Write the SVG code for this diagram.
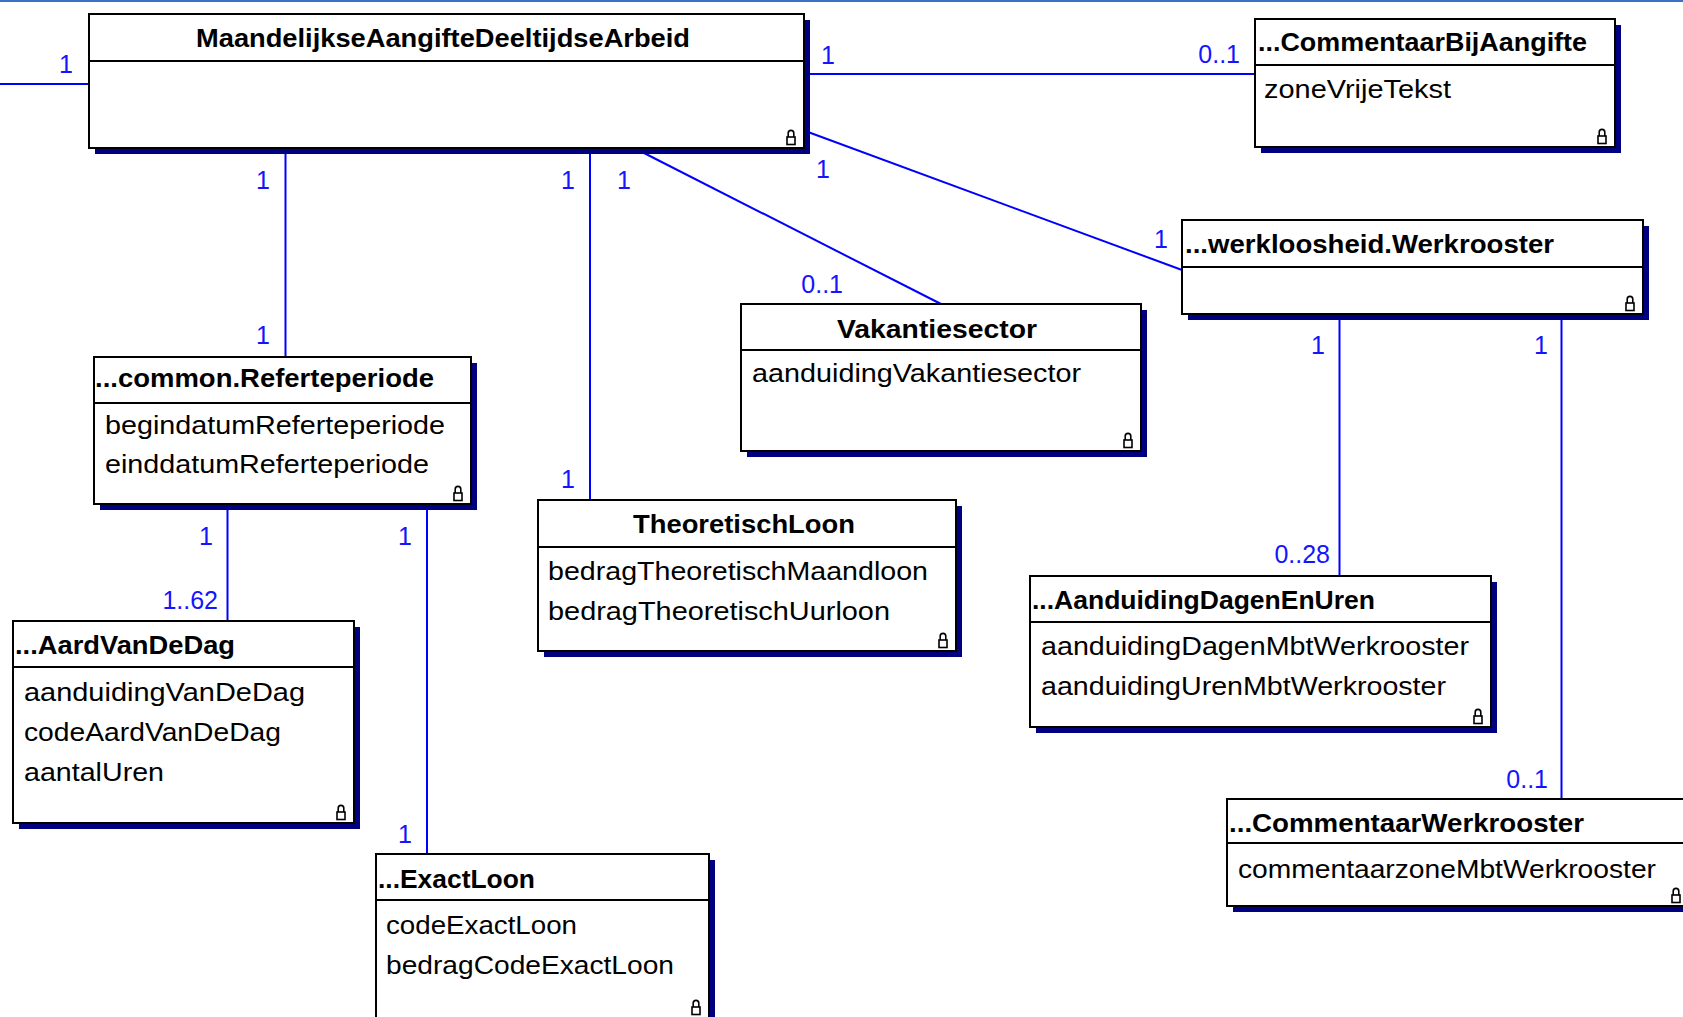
<svg xmlns="http://www.w3.org/2000/svg" width="1683" height="1017" viewBox="0 0 1683 1017">
<style>
.bg{fill:#fff}
.topbar{fill:#3b6fc8}
.shadow{fill:#000080}
.box{fill:#fff;stroke:#000;stroke-width:2}
.div{stroke:#000;stroke-width:2}
.title{font-family:"Liberation Sans",Arial,sans-serif;font-weight:bold;font-size:26px;fill:#000}
.attr{font-family:"Liberation Sans",Arial,sans-serif;font-size:26px;fill:#000}
.mult{font-family:"Liberation Sans",Arial,sans-serif;font-size:25px;fill:#1414ff}
.conn{stroke:#0000ff;stroke-width:2;fill:none}
.lk{fill:#fff;stroke:#000;stroke-width:1.6}
</style>
<defs>
<symbol id="lock" viewBox="0 0 10 17" width="10" height="17" overflow="visible">
<path class="lk" d="M2.2,8 V4.2 A2.8,2.8 0 0 1 7.8,4.2 V8"/>
<rect class="lk" x="1" y="8" width="8" height="7.5"/>
</symbol>
</defs>
<rect class="bg" x="0" y="0" width="1683" height="1017"/>
<rect class="topbar" x="0" y="0" width="1683" height="2"/>

<g id="connectors">
<line class="conn" x1="0" y1="84" x2="89" y2="84"/>
<line class="conn" x1="804" y1="74" x2="1255" y2="74"/>
<line class="conn" x1="808" y1="132" x2="1182" y2="270"/>
<line class="conn" x1="285.5" y1="148" x2="285.5" y2="357"/>
<line class="conn" x1="590" y1="148" x2="590" y2="500"/>
<line class="conn" x1="644" y1="153" x2="941" y2="304"/>
<line class="conn" x1="1339.5" y1="314" x2="1339.5" y2="576"/>
<line class="conn" x1="1561.5" y1="314" x2="1561.5" y2="800"/>
<line class="conn" x1="227.5" y1="504" x2="227.5" y2="620"/>
<line class="conn" x1="427" y1="504" x2="427" y2="854"/>
<text class="mult" x="73" y="73" text-anchor="end">1</text>
<text class="mult" x="821" y="64">1</text>
<text class="mult" x="1240" y="63" text-anchor="end">0..1</text>
<text class="mult" x="830" y="178" text-anchor="end">1</text>
<text class="mult" x="1168" y="248" text-anchor="end">1</text>
<text class="mult" x="270" y="189" text-anchor="end">1</text>
<text class="mult" x="270" y="344" text-anchor="end">1</text>
<text class="mult" x="575" y="189" text-anchor="end">1</text>
<text class="mult" x="575" y="488" text-anchor="end">1</text>
<text class="mult" x="631" y="189" text-anchor="end">1</text>
<text class="mult" x="843" y="293" text-anchor="end">0..1</text>
<text class="mult" x="1325" y="354" text-anchor="end">1</text>
<text class="mult" x="1330" y="563" text-anchor="end">0..28</text>
<text class="mult" x="1548" y="354" text-anchor="end">1</text>
<text class="mult" x="1548" y="788" text-anchor="end">0..1</text>
<text class="mult" x="213" y="545" text-anchor="end">1</text>
<text class="mult" x="218" y="609" text-anchor="end">1..62</text>
<text class="mult" x="412" y="545" text-anchor="end">1</text>
<text class="mult" x="412" y="843" text-anchor="end">1</text>
</g>

<g id="MaandelijkseAangifteDeeltijdseArbeid">
<rect class="shadow" x="95" y="20" width="715" height="134"/>
<rect class="box" x="89" y="14" width="715" height="134"/>
<line class="div" x1="89" y1="61" x2="804" y2="61"/>
<text class="title" x="443" y="47" text-anchor="middle" textLength="494" lengthAdjust="spacingAndGlyphs">MaandelijkseAangifteDeeltijdseArbeid</text>
<use href="#lock" x="786" y="129"/>
</g>

<g id="CommentaarBijAangifte">
<rect class="shadow" x="1261" y="25" width="360" height="128"/>
<rect class="box" x="1255" y="19" width="360" height="128"/>
<line class="div" x1="1255" y1="65" x2="1615" y2="65"/>
<text class="title" x="1258" y="51" textLength="329" lengthAdjust="spacingAndGlyphs">...CommentaarBijAangifte</text>
<text class="attr" x="1264" y="98" textLength="187" lengthAdjust="spacingAndGlyphs">zoneVrijeTekst</text>
<use href="#lock" x="1597" y="128"/>
</g>

<g id="Werkrooster">
<rect class="shadow" x="1188" y="226" width="461" height="94"/>
<rect class="box" x="1182" y="220" width="461" height="94"/>
<line class="div" x1="1182" y1="267" x2="1643" y2="267"/>
<text class="title" x="1185" y="253" textLength="369" lengthAdjust="spacingAndGlyphs">...werkloosheid.Werkrooster</text>
<use href="#lock" x="1625" y="295"/>
</g>

<g id="Referteperiode">
<rect class="shadow" x="100" y="363" width="377" height="147"/>
<rect class="box" x="94" y="357" width="377" height="147"/>
<line class="div" x1="94" y1="403" x2="471" y2="403"/>
<text class="title" x="95" y="387" textLength="339" lengthAdjust="spacingAndGlyphs">...common.Referteperiode</text>
<text class="attr" x="105" y="434" textLength="340" lengthAdjust="spacingAndGlyphs">begindatumReferteperiode</text>
<text class="attr" x="105" y="473" textLength="324" lengthAdjust="spacingAndGlyphs">einddatumReferteperiode</text>
<use href="#lock" x="453" y="485"/>
</g>

<g id="Vakantiesector">
<rect class="shadow" x="747" y="310" width="400" height="147"/>
<rect class="box" x="741" y="304" width="400" height="147"/>
<line class="div" x1="741" y1="350" x2="1141" y2="350"/>
<text class="title" x="937" y="338" text-anchor="middle" textLength="200" lengthAdjust="spacingAndGlyphs">Vakantiesector</text>
<text class="attr" x="752" y="382" textLength="329" lengthAdjust="spacingAndGlyphs">aanduidingVakantiesector</text>
<use href="#lock" x="1123" y="432"/>
</g>

<g id="TheoretischLoon">
<rect class="shadow" x="544" y="506" width="418" height="151"/>
<rect class="box" x="538" y="500" width="418" height="151"/>
<line class="div" x1="538" y1="547" x2="956" y2="547"/>
<text class="title" x="744" y="533" text-anchor="middle" textLength="222" lengthAdjust="spacingAndGlyphs">TheoretischLoon</text>
<text class="attr" x="548" y="580" textLength="380" lengthAdjust="spacingAndGlyphs">bedragTheoretischMaandloon</text>
<text class="attr" x="548" y="620" textLength="342" lengthAdjust="spacingAndGlyphs">bedragTheoretischUurloon</text>
<use href="#lock" x="938" y="632"/>
</g>

<g id="AanduidingDagenEnUren">
<rect class="shadow" x="1036" y="582" width="461" height="151"/>
<rect class="box" x="1030" y="576" width="461" height="151"/>
<line class="div" x1="1030" y1="622" x2="1491" y2="622"/>
<text class="title" x="1032" y="609" textLength="343" lengthAdjust="spacingAndGlyphs">...AanduidingDagenEnUren</text>
<text class="attr" x="1041" y="655" textLength="428" lengthAdjust="spacingAndGlyphs">aanduidingDagenMbtWerkrooster</text>
<text class="attr" x="1041" y="695" textLength="405" lengthAdjust="spacingAndGlyphs">aanduidingUrenMbtWerkrooster</text>
<use href="#lock" x="1473" y="708"/>
</g>

<g id="CommentaarWerkrooster">
<rect class="shadow" x="1233" y="805" width="457" height="107"/>
<rect class="box" x="1227" y="799" width="457" height="107"/>
<line class="div" x1="1227" y1="843" x2="1684" y2="843"/>
<text class="title" x="1229" y="832" textLength="355" lengthAdjust="spacingAndGlyphs">...CommentaarWerkrooster</text>
<text class="attr" x="1238" y="878" textLength="418" lengthAdjust="spacingAndGlyphs">commentaarzoneMbtWerkrooster</text>
<use href="#lock" x="1671" y="887"/>
</g>

<g id="AardVanDeDag">
<rect class="shadow" x="19" y="627" width="341" height="202"/>
<rect class="box" x="13" y="621" width="341" height="202"/>
<line class="div" x1="13" y1="667" x2="354" y2="667"/>
<text class="title" x="15" y="654" textLength="220" lengthAdjust="spacingAndGlyphs">...AardVanDeDag</text>
<text class="attr" x="24" y="701" textLength="281" lengthAdjust="spacingAndGlyphs">aanduidingVanDeDag</text>
<text class="attr" x="24" y="741" textLength="257" lengthAdjust="spacingAndGlyphs">codeAardVanDeDag</text>
<text class="attr" x="24" y="781" textLength="140" lengthAdjust="spacingAndGlyphs">aantalUren</text>
<use href="#lock" x="336" y="804"/>
</g>

<g id="ExactLoon">
<rect class="shadow" x="382" y="860" width="333" height="170"/>
<rect class="box" x="376" y="854" width="333" height="166"/>
<line class="div" x1="376" y1="900" x2="709" y2="900"/>
<text class="title" x="378" y="888" textLength="157" lengthAdjust="spacingAndGlyphs">...ExactLoon</text>
<text class="attr" x="386" y="934" textLength="191" lengthAdjust="spacingAndGlyphs">codeExactLoon</text>
<text class="attr" x="386" y="974" textLength="288" lengthAdjust="spacingAndGlyphs">bedragCodeExactLoon</text>
<use href="#lock" x="691" y="999"/>
</g>
</svg>
